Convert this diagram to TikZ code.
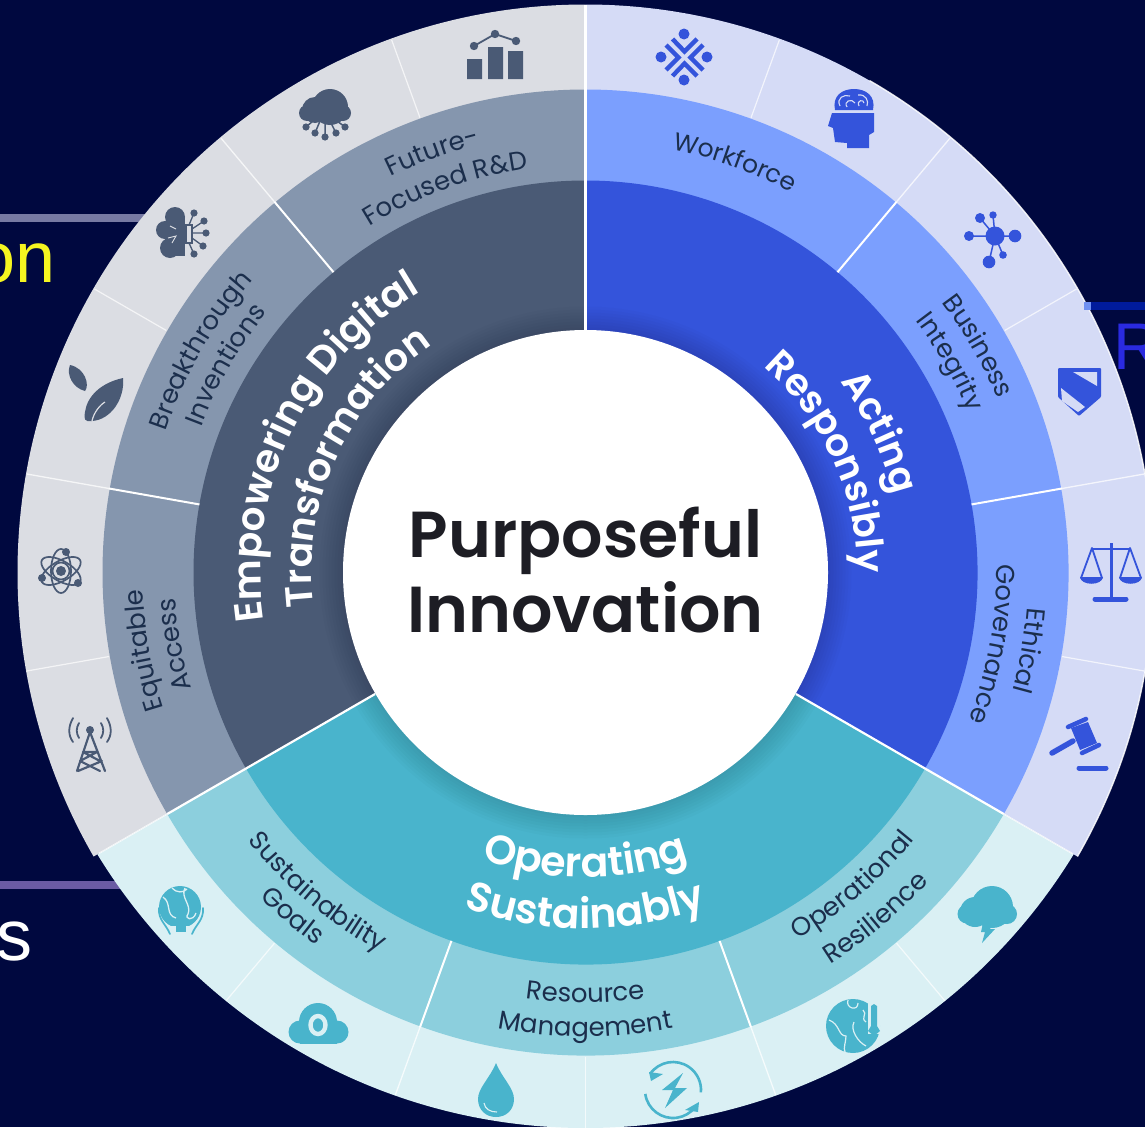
\documentclass[tikz,border=0pt]{standalone}
\usepackage{fontspec}
\setmainfont{Poppins}
\newfontfamily\semifont{Poppins SemiBold}
\newfontfamily\medfont{Poppins Medium}
\newfontfamily\arialfont{Liberation Sans}
\usetikzlibrary{decorations.text}
\definecolor{bgnavy}{HTML}{00083F}
\definecolor{gA}{HTML}{DBDDE3}\definecolor{gB}{HTML}{8596AE}\definecolor{gC}{HTML}{4A5A75}
\definecolor{bA}{HTML}{D5DBF6}\definecolor{bB}{HTML}{7B9FFE}\definecolor{bC}{HTML}{3454DB}
\definecolor{tA}{HTML}{DAF0F4}\definecolor{tB}{HTML}{8CCFDD}\definecolor{tC}{HTML}{49B4CC}
\definecolor{inkdark}{HTML}{1B2E4C}
\definecolor{centretext}{HTML}{1D1D24}
\newcommand{\sector}[5]{% start, end, three colours
  \fill[#3] (0,0) -- (#1:568) arc[start angle=#1,end angle=#2,radius=568] -- cycle;
  \fill[#4] (0,0) -- (#1:483) arc[start angle=#1,end angle=#2,radius=483] -- cycle;
  \fill[#5] (0,0) -- (#1:392) arc[start angle=#1,end angle=#2,radius=392] -- cycle;}
% clockwise text, tops outwards
\newcommand{\cwtext}[6]{% radius, centre angle, size, colour, font, text
  \pgfmathsetmacro\arcA{#2+55}\pgfmathsetmacro\arcB{#2-55}
  \path[decorate,decoration={text along path,text align=center,
    text={|#5\fontsize{#3}{#3}\selectfont\color{#4}|#6}}]
    (\arcA:#1) arc[start angle=\arcA,end angle=\arcB,radius=#1];}
% counter-clockwise text, tops inwards
\newcommand{\ccwtext}[6]{%
  \pgfmathsetmacro\arcA{#2-55}\pgfmathsetmacro\arcB{#2+55}
  \path[decorate,decoration={text along path,text align=center,
    text={|#5\fontsize{#3}{#3}\selectfont\color{#4}|#6}}]
    (\arcA:#1) arc[start angle=\arcA,end angle=\arcB,radius=#1];}
\tikzset{
  iconline/.style={line width=#1,line cap=round,line join=round},
  lead/.style={line width=8pt},
  fragment/.style={inner sep=0pt,anchor=base east,font=\arialfont\fontsize{72}{72}\selectfont},
  centreword/.style={inner sep=0pt,anchor=base,text=centretext,font=\semifont\fontsize{65}{65}\selectfont},
}
\begin{document}
\begin{tikzpicture}[x=1pt,y=-1pt]
\useasboundingbox (0,0) rectangle (1145,1127);
\clip (0,0) rectangle (1145,1127);
\fill[bgnavy] (0,0) rectangle (1145,1127);
% leads and cut-off words behind the wheel
\coordinate (leadA) at (0,218); \coordinate (leadAend) at (145,218);
\coordinate (leadB) at (0,885); \coordinate (leadBend) at (125,885);
\coordinate (leadC) at (1084,306); \coordinate (leadCend) at (1145,306);
\draw[lead,color={rgb,255:red,119;green,122;blue,163}] (leadA) -- (leadAend);
\draw[lead,color={rgb,255:red,106;green,91;blue,163}] (leadB) -- (leadBend);
\draw[lead,color={rgb,255:red,0;green,27;blue,155}] (leadC) -- (leadCend);
\node[fragment,text={rgb,255:red,245;green,245;blue,32}] (wordon) at (56,282) {on};
\node[fragment,text=white] (wordes) at (33,960) {s};
\node[fragment,anchor=base west,text={rgb,255:red,42;green,42;blue,224},font=\arialfont\fontsize{66}{66}\selectfont] (wordR) at (1113,369) {R};
% wheel
\begin{scope}[shift={(585.5,572.5)},y=1pt]
  \sector{90}{210}{gA}{gB}{gC}
  \sector{-30}{90}{bA}{bB}{bC}
  % the lower sector's rim is flatter than the rest of the wheel
  \begin{scope}
    \clip (0,16.5) circle[radius=572];
    \fill[tA] (0,0) -- (210:700) -- (270:1000) -- (330:700) -- cycle;
  \end{scope}
  \fill[tB] (0,0) -- (210:483) arc[start angle=210,end angle=330,radius=483] -- cycle;
  \fill[tC] (0,0) -- (210:392) arc[start angle=210,end angle=330,radius=392] -- cycle;
  \foreach \r in {245,248,...,266} \fill[black,opacity=.016] (0,0) circle[radius=\r];
  \draw[white,line width=1.4pt,opacity=.85] (60:568) arc[start angle=60,end angle=-30,radius=568];
  % ring dividers
  \foreach \a/\e in {110/567,70/567,150/567,30/567,190/567,-10/567,230/559,-50/559,270/555}
    \draw[white,opacity=.7,line width=1.2pt] (\a:484) -- (\a:\e);
  \foreach \a/\e in {130/567,50/567,170/567,10/567,250/556,290/556}{
    \draw[white,opacity=.75,line width=1.3pt] (\a:484) -- (\a:\e);
    \draw[white,line width=2pt] (\a:392) -- (\a:484);}
  \draw[white,line width=2.2pt] (90:243) -- (90:568);
  \draw[white,line width=2.2pt] (210:243) -- (210:483);
  \draw[white,line width=2.2pt] (330:243) -- (330:483);
  \draw[white,opacity=.8,line width=1.4pt] (210:483) -- (210:562);
  \draw[white,opacity=.8,line width=1.4pt] (330:483) -- (330:563);
  \fill[white] (0,0) circle[radius=242.5];
  % sector titles
  \cwtext{325}{154.5}{39}{white}{\semifont}{Empowering Digital}
  \cwtext{274}{155.5}{38}{white}{\semifont}{Transformation}
  \cwtext{318}{25.5}{38}{white}{\semifont}{Acting}
  \cwtext{272}{24.5}{38}{white}{\semifont}{Responsibly}
  \ccwtext{305}{270}{41}{white}{\semifont}{Operating}
  \ccwtext{356}{270}{41}{white}{\semifont}{Sustainably}
  % pillar titles
  \cwtext{441}{110}{26}{inkdark}{}{Future-}
  \cwtext{408}{110}{26}{inkdark}{}{Focused R{\&}D}
  \cwtext{432}{70}{25}{inkdark}{}{Workforce}
  \cwtext{447}{30}{26}{inkdark}{}{Business}
  \cwtext{415}{30}{26}{inkdark}{}{Integrity}
  \cwtext{443}{-10}{26}{inkdark}{}{Ethical}
  \cwtext{411}{-10}{26}{inkdark}{}{Governance}
  \cwtext{443}{150}{26}{inkdark}{}{Breakthrough}
  \cwtext{411}{150}{26}{inkdark}{}{Inventions}
  \cwtext{443}{190}{26}{inkdark}{}{Equitable}
  \cwtext{411}{190}{26}{inkdark}{}{Access}
  \ccwtext{431}{230}{26}{inkdark}{}{Sustainability}
  \ccwtext{460}{229.5}{26}{inkdark}{}{Goals}
  \ccwtext{430}{270}{26}{inkdark}{}{Resource}
  \ccwtext{464}{270}{26}{inkdark}{}{Management}
  \ccwtext{424}{310.5}{26}{inkdark}{}{Operational}
  \ccwtext{462}{310}{26}{inkdark}{}{Resilience}
\end{scope}
\fill[color={rgb,255:red,111;green,144;blue,242}] (1084,302) rectangle (1091,310);
\node[centreword] (purposeful) at (585.5,557) {Purposeful};
\node[centreword] (innovation) at (585.5,632) {Innovation};
% ---------- slate icons
\begin{scope}[gC]
  % bar chart
  \fill (467,59) rectangle (482,79) (488,47) rectangle (503,79) (508,51) rectangle (523,79);
  \draw[iconline=1.8pt] (474,46) -- (495,34) -- (516,41);
  \fill (474,46) circle[radius=4.2] (495,34) circle[radius=4.2] (516,41) circle[radius=4.2];
  % cloud network
  \fill (330,107) circle[radius=18] (315,110) circle[radius=13] (307,113) circle[radius=8] (343,113) circle[radius=8];
  \fill (307,112) rectangle (343,121);
  \draw[iconline=1.5pt] (313,121) -- (306,127) (320,121) -- (315,133) (325,121) -- (325,137) (330,121) -- (336,133) (337,121) -- (345,127);
  \fill (306,127) circle[radius=3.6] (315,133) circle[radius=3.6] (325,137) circle[radius=3.6] (336,133) circle[radius=3.6] (345,127) circle[radius=3.6];
  % brain chip
  \fill (175,217) circle[radius=10] (165,230) circle[radius=9] (170,248) circle[radius=10] (176,233) circle[radius=10];
  \fill (172,218) rectangle (185,256);
  \draw[line width=1.3pt] (186,225) rectangle (192,243);
  \draw[iconline=1.3pt] (189,225) -- (194,213) (192,229) -- (204,221) (192,233) -- (206,233) (192,238) -- (203,246) (189,243) -- (194,254);
  \fill (194,213) circle[radius=3.6] (204,221) circle[radius=3.6] (206,233) circle[radius=3.6] (203,246) circle[radius=3.6] (194,254) circle[radius=3.6];
  \draw[gA,line width=.9pt] (170,226) -- (176,229) (168,238) -- (176,236) -- (172,243);
  % leaves
  \fill (70,365) .. controls (85,368) and (90,385) .. (85,391) .. controls (73,388) and (66,375) .. (70,365);
  \fill (123,378) .. controls (125,400) and (110,420) .. (92,421) .. controls (84,422) and (84,419) .. (85,412) .. controls (87,397) and (100,383) .. (123,378);
  \draw[gA,line width=1.2pt] (92,421) .. controls (94,412) and (100,405) .. (105,402);
  % atom
  \fill (61,571) circle[radius=5];
  \draw[line width=1.7pt] (61,571) circle[radius=8.5];
  \foreach \rot in {30,90,150}
    \draw[line width=1.7pt,rotate around={\rot:(61,571)}] (61,571) ellipse[x radius=22,y radius=10];
  \fill (66,552) circle[radius=4] (42,578) circle[radius=4] (78,583) circle[radius=4];
  % tower
  \fill (90,730) circle[radius=4];
  \draw[iconline=2.2pt] (77,771) -- (90,732) -- (105,771) (83,752) -- (97,752) (80,761) -- (100,771) (102,761) -- (78,771) (83,752) -- (100,761) (97,752) -- (80,761);
  \draw[iconline=1.8pt] (73,718) .. controls (68,727) and (68,735) .. (73,742) (79,723) .. controls (76,728) and (76,733) .. (79,738)
    (107,718) .. controls (112,727) and (112,735) .. (107,742) (101,723) .. controls (104,728) and (104,733) .. (101,738);
\end{scope}
% ---------- blue icons
\begin{scope}[bC]
  % knot
  \fill (684,34) circle[radius=5.5] (684,80) circle[radius=5.5] (661,57) circle[radius=5.5] (707,57) circle[radius=5.5];
  \draw[line width=4.4pt] (672.5,39) -- (684.5,51.5) -- (697,39) (672.5,76) -- (684.5,63.5) -- (697,76)
     (666,45) -- (678.5,57.5) -- (666,70) (703,45) -- (690.5,57.5) -- (703,70);
  % head
  \fill (832,113) -- (874,113) -- (874,132) -- (869,135) -- (869,148) -- (847,148) -- (847,143) -- (835,142) -- (833,128) -- (828,126) -- cycle;
  \fill (835,110) .. controls (832,96) and (842,89) .. (854,89) .. controls (866,89) and (876,96) .. (873,110) -- cycle;
  \draw[bA,line width=1.1pt] (840,106) .. controls (836,98) and (844,94) .. (850,96) (847,107) .. controls (843,101) and (852,98) .. (855,103)
     (858,95) .. controls (866,94) and (869,101) .. (867,106) (859,106) .. controls (856,100) and (864,99) .. (864,103);
  % network
  \draw[line width=1.5pt] (995,236) -- (1015,236) (995,236) -- (989,262) (995,236) -- (969,236) (995,236) -- (980,218) (995,236) -- (993,215) (995,236) -- (1003,255);
  \fill (995,236) circle[radius=9.5] (1015,236) circle[radius=6.3] (989,262) circle[radius=6.3] (969,236) circle[radius=5] (980,218) circle[radius=5] (993,215) circle[radius=3.7] (1003,255) circle[radius=3.8];
  % shield
  \fill[rounded corners=1pt] (1058,368) -- (1101,368) -- (1101,397) -- (1079,416) -- (1058,397) -- cycle;
  \fill[bA] (1073,372) -- (1097,372) -- (1097,386) -- cycle;
  \fill[bA] (1061,388) -- (1085,407) -- (1078,412) -- (1062,401) -- cycle;
  % scales
  \draw[line width=3pt] (1111,543) -- (1111,600);
  \draw[iconline=5pt] (1095,599) -- (1126,599);
  \draw[iconline=2.6pt] (1092,549) -- (1130,549);
  \draw[iconline=1.8pt] (1081,578) -- (1092,548) -- (1102,578) (1120,578) -- (1130,548) -- (1141,578);
  \fill (1080,577) -- (1103,577) .. controls (1102,586) and (1081,586) .. (1080,577);
  \fill (1119,577) -- (1142,577) .. controls (1141,586) and (1120,586) .. (1119,577);
  % gavel
  \draw[iconline=5.5pt] (1052,753) -- (1073,741);
  \fill (1071,728) -- (1088,722) -- (1097,743) -- (1080,750) -- cycle;
  \draw[iconline=4.5pt] (1068,727) -- (1086,719) (1082,753) -- (1099,745);
  \draw[iconline=5pt] (1079,768) -- (1106,768);
\end{scope}
% ---------- teal icons
\begin{scope}[tC]
  % globe in hands
  \fill (180,907) circle[radius=21];
  \draw[tA,line width=1.3pt] (163,897) .. controls (172,903) and (165,915) .. (176,918) (185,888) .. controls (180,897) and (192,905) .. (188,914) .. controls (184,919) and (193,922) .. (196,913) (172,888) .. controls (176,893) and (184,893) .. (187,889);
  \fill[tA] (157,912) -- (170,934) -- (192,934) -- (205,912) -- (198,926) -- (164,926) -- cycle;
  \fill (176,924) rectangle (186,932);
  \draw[iconline=1.7pt] (159,908) .. controls (158,920) and (166,924) .. (170,934) (203,908) .. controls (204,920) and (196,924) .. (192,934);
  % cloud with ring
  \fill (318,1022) circle[radius=19] (300,1032) circle[radius=11.5] (337,1032) circle[radius=11.5];
  \fill (300,1027) rectangle (337,1043.5);
  \draw[tA,line width=4.4pt] (318,1025) ellipse[x radius=7.5,y radius=9];
  % drop
  \fill (496,1063) .. controls (490,1078) and (478,1088) .. (478,1099) .. controls (478,1110) and (486,1117) .. (496,1117) .. controls (506,1117) and (514,1110) .. (514,1099) .. controls (514,1088) and (502,1078) .. (496,1063);
  \draw[tA,line width=1.1pt] (484,1103) .. controls (485,1109) and (490,1112) .. (497,1112);
  % renewal with bolt
  \begin{scope}[shift={(673,1090)},y=1pt]
    \draw[line width=2.6pt] (145:28) arc[start angle=145,end angle=-5,radius=28];
    \draw[line width=2.6pt] (188:28) arc[start angle=188,end angle=322,radius=28];
  \end{scope}
  \fill (649,1072) -- (663,1074) -- (651,1081) -- cycle (699,1102) -- (698,1112) -- (685,1110) -- cycle;
  \fill (683,1073) -- (662,1090) -- (673,1090) -- (665,1108) -- (687,1088) -- (675,1088) -- cycle;
  % warm globe
  \fill (853,1026) circle[radius=27];
  \draw[tA,line width=1.2pt] (829,1020) .. controls (840,1024) and (838,1036) .. (846,1036) .. controls (846,1042) and (843,1048) .. (845,1052)
     (848,1000) .. controls (845,1008) and (858,1012) .. (858,1003) (854,1022) .. controls (850,1030) and (858,1042) .. (866,1046) (863,1010) .. controls (868,1014) and (860,1018) .. (866,1022);
  \fill[tA] (868,1002) rectangle (880,1034);
  \fill (874,1004) -- (877,1006) -- (877,1026) -- (880,1031) -- (874,1036) -- (868,1031) -- (871,1026) -- (871,1006) -- cycle;
  % storm cloud
  \fill (992,907) circle[radius=21] (975,912) circle[radius=15] (967,914) circle[radius=9.5] (1007,914) circle[radius=10];
  \fill (967,912) rectangle (1007,923.5);
  \fill (983,923) -- (993,923) -- (990,929) -- (995,929) -- (982,943) -- (985,932) -- (981,932) -- cycle;
\end{scope}
\end{tikzpicture}
\end{document}
